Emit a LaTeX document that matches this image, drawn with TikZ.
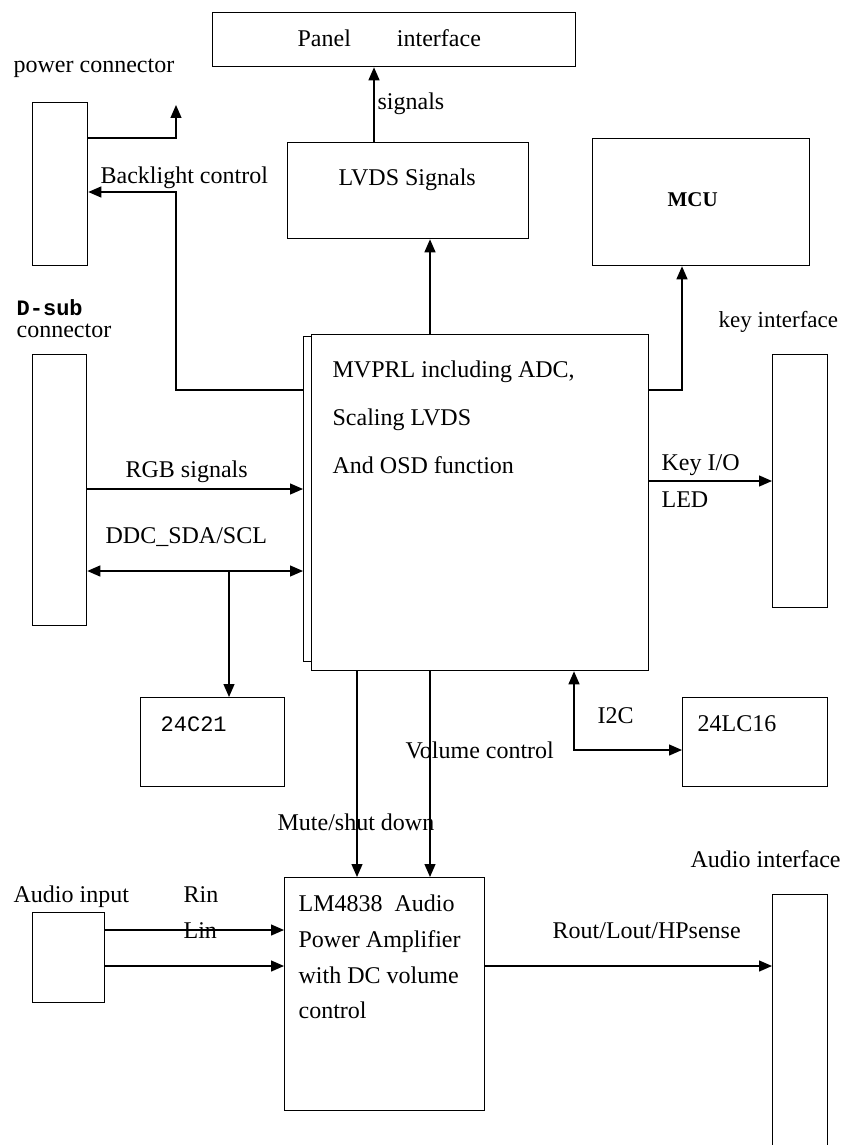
\documentclass[tikz,border=0pt]{standalone}
\usepackage{fontspec}
\setmainfont{Liberation Serif}
\newfontfamily\monof{Liberation Mono}
\usetikzlibrary{arrows.meta}
\begin{document}
\begin{tikzpicture}[x=1pt,y=-1pt, line width=1.3pt,
  box/.style={draw, rectangle, anchor=north west, inner sep=0pt, line width=1.3pt, fill=white},
  lbl/.style={anchor=base west, inner sep=0pt, font=\fontsize{24}{28}\selectfont},
  mono/.style={anchor=base west, inner sep=0pt, font=\monof\fontsize{22}{26}\selectfont},
  arr/.style={-{Triangle[length=13pt,width=11pt]}},
  darr/.style={{Triangle[length=13pt,width=11pt]}-{Triangle[length=13pt,width=11pt]}}]
\useasboundingbox (0,0) rectangle (844,1145);
% boxes
\node[box, minimum width=363pt, minimum height=54pt] (panel) at (212,12) {};
\node[box, minimum width=55pt, minimum height=163pt] (pwr) at (32,102) {};
\node[box, minimum width=241pt, minimum height=96pt] (lvds) at (287,142) {};
\node[box, minimum width=217pt, minimum height=127pt] (mcu) at (592,138) {};
\node[box, minimum width=20pt, minimum height=325pt] (mvback) at (303,336) {};
\node[box, minimum width=337pt, minimum height=336pt] (mvprl) at (311,334) {};
\node[box, minimum width=54pt, minimum height=271pt] (dsub) at (32,354) {};
\node[box, minimum width=55pt, minimum height=253pt] (key) at (772,354) {};
\node[box, minimum width=144pt, minimum height=89pt] (c21) at (140,697) {};
\node[box, minimum width=145pt, minimum height=89pt] (lc16) at (682,697) {};
\node[box, minimum width=200pt, minimum height=233pt] (lm) at (284,877) {};
\node[box, minimum width=72pt, minimum height=90pt] (ain) at (32,912) {};
\node[box, minimum width=55pt, minimum height=256pt] (aif) at (772,894) {};
% free coordinates
\coordinate (pwrtip) at (176,105);
\coordinate (blbend) at (176,192);
\coordinate (ddcsplit) at (229,571);
% connectors
\draw[arr] (lvds.north -| 374,0) -- (panel.south -| 374,0);
\draw[arr] (mvprl.north -| 430,0) -- (lvds.south -| 430,0);
\draw[arr] (mvprl.east |- 0,390) -| (mcu.south -| 682,0);
\draw[arr] (mvback.west |- 0,390) -| (blbend) -- (pwr.east |- blbend);
\draw[arr] (pwr.east |- 0,138) -| (pwrtip);
\draw[arr] (dsub.east |- 0,489) -- (mvback.west |- 0,489);
\draw[darr] (dsub.east |- 0,571) -- (mvback.west |- 0,571);
\draw[arr] (ddcsplit) -- (c21.north -| ddcsplit);
\draw[arr] (mvprl.east |- 0,481) -- (key.west |- 0,481);
\draw[darr] (mvprl.south -| 574,0) |- (lc16.west |- 0,750);
\draw[arr] (mvprl.south -| 357,0) -- (lm.north -| 357,0);
\draw[arr] (mvprl.south -| 430,0) -- (lm.north -| 430,0);
\draw[arr] (ain.east |- 0,930) -- (lm.west |- 0,930);
\draw[arr] (ain.east |- 0,966) -- (lm.west |- 0,966);
\draw[arr] (lm.east |- 0,966) -- (aif.west |- 0,966);
% texts
\node[lbl] (tpanel) at (297,47) {Panel\hspace{46pt}interface};
\node[lbl] (tpwr) at (13,73) {power connector};
\node[lbl] (tbl) at (100,183) {Backlight control};
\node[lbl] (tsig) at (377,110) {signals};
\node[lbl] (tlvds) at (338,185) {LVDS Signals};
\node[anchor=base west, inner sep=0pt, font=\bfseries\fontsize{21}{25}\selectfont] (tmcu) at (667,206) {MCU};
\node[mono, font=\monof\bfseries\fontsize{22}{26}\selectfont] (tdsub) at (16,315) {D-sub};
\node[lbl] (tdcon) at (16,337) {connector};
\node[lbl, font=\fontsize{23}{28}\selectfont] (tkey) at (718,327) {key interface};
\node[lbl] (tmv1) at (332,377) {MVPRL including ADC,};
\node[lbl] (tmv2) at (332,425) {Scaling LVDS};
\node[lbl] (tmv3) at (332,473) {And OSD function};
\node[lbl] (trgb) at (125,477) {RGB signals};
\node[lbl] (tddc) at (105,543) {DDC\_SDA/SCL};
\node[lbl] (tkio) at (661,470) {Key I/O};
\node[lbl] (tled) at (661,507) {LED};
\node[mono] (t21) at (160,731) {24C21};
\node[lbl] (t16) at (697,731) {24LC16};
\node[lbl] (ti2c) at (597,723) {I2C};
\node[lbl] (tvol) at (405,758) {Volume control};
\node[lbl] (tmute) at (277,830) {Mute/shut down};
\node[lbl] (taif) at (690,867) {Audio interface};
\node[lbl] (tain) at (13,902) {Audio input};
\node[lbl] (trin) at (183,902) {Rin};
\node[lbl] (tlin) at (183,938) {Lin};
\node[lbl] (trout) at (552,938) {Rout/Lout/HPsense};
\node[lbl] (tlm1) at (298,911) {LM4838\hspace{12pt}Audio};
\node[lbl] (tlm2) at (298,947) {Power Amplifier};
\node[lbl] (tlm3) at (298,983) {with DC volume};
\node[lbl] (tlm4) at (298,1018) {control};
\end{tikzpicture}
\end{document}
